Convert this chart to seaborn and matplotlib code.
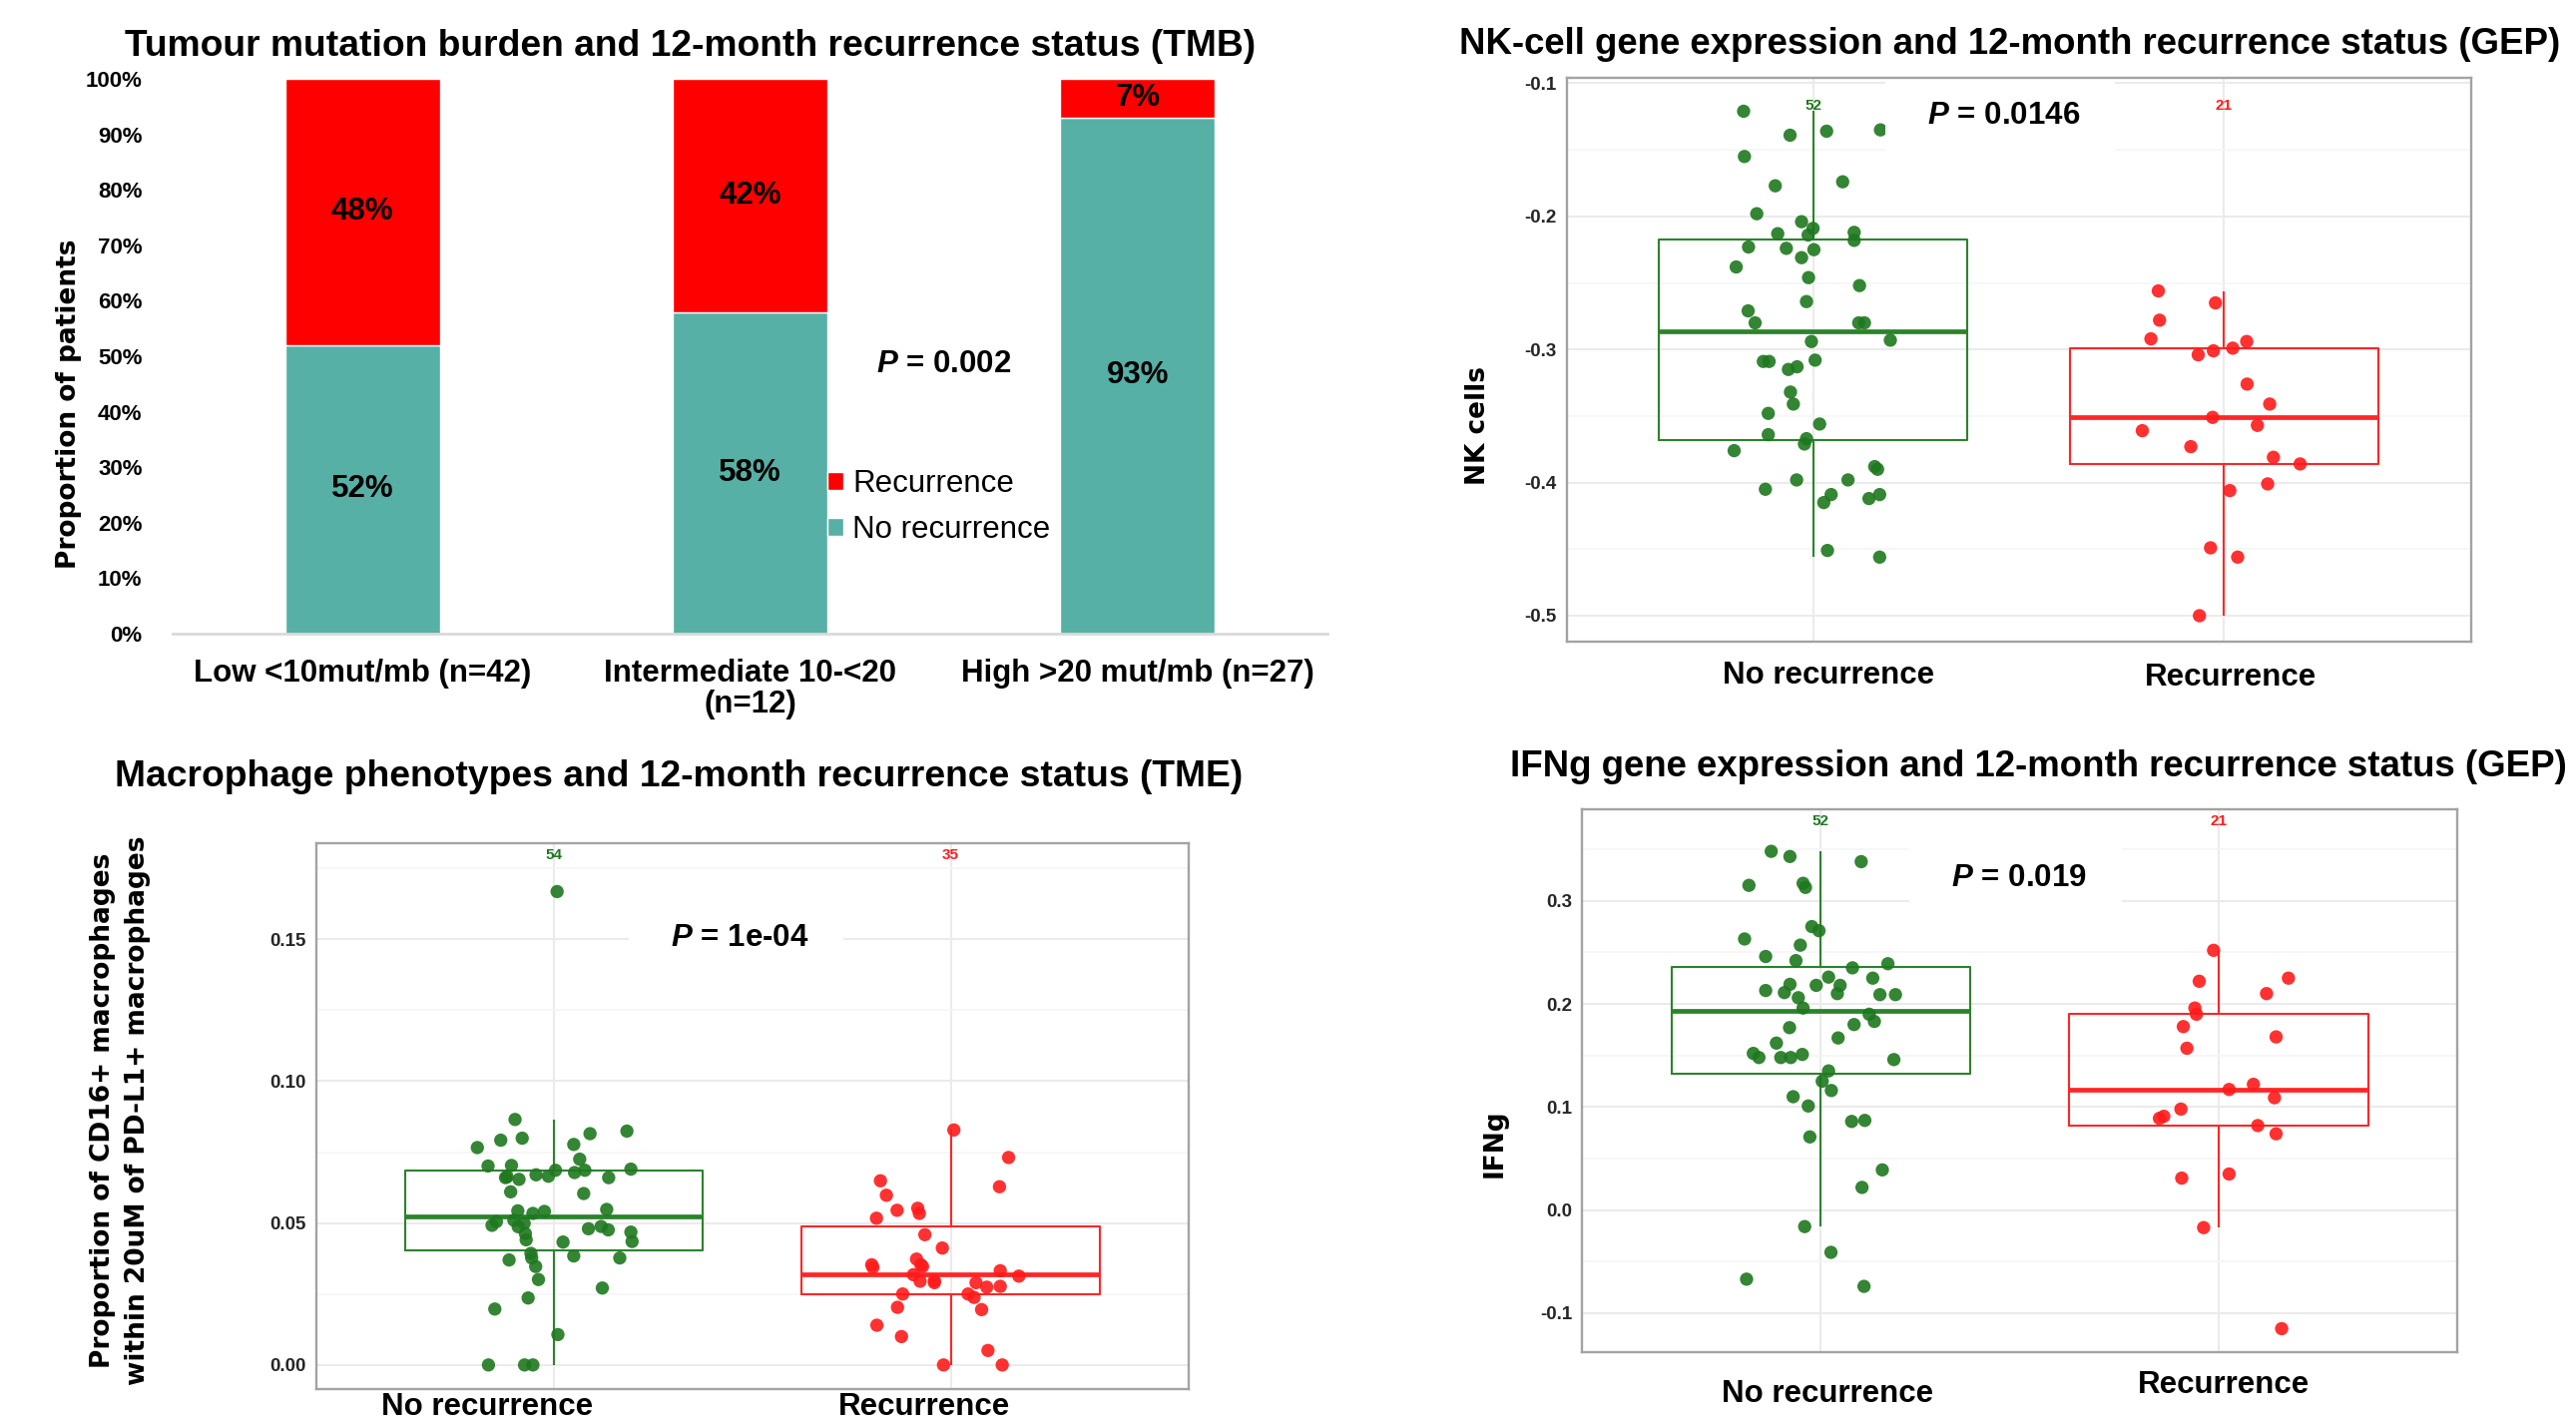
import numpy as np
import pandas as pd
import matplotlib
matplotlib.use("Agg")
import matplotlib.pyplot as plt
import seaborn as sns
from matplotlib.patches import Patch

# ---------------- data ----------------
tmb_groups = ["Low <10mut/mb (n=42)", "Intermediate 10-<20\n(n=12)", "High >20 mut/mb (n=27)"]
tmb_no_rec = [52, 58, 93]
tmb_rec = [48, 42, 7]
tmb_yticks = [0, 10, 20, 30, 40, 50, 60, 70, 80, 90, 100]

status = ["No recurrence", "Recurrence"]

nk_norec = [-0.121, -0.139, -0.136, -0.135, -0.155, -0.177, -0.174, -0.198, -0.204, -0.213,
            -0.214, -0.209, -0.212, -0.218, -0.223, -0.224, -0.225, -0.231, -0.238, -0.246,
            -0.252, -0.264, -0.271, -0.280, -0.280, -0.280, -0.293, -0.294, -0.309, -0.309,
            -0.308, -0.315, -0.313, -0.332, -0.341, -0.348, -0.356, -0.364, -0.367, -0.371,
            -0.376, -0.388, -0.390, -0.398, -0.398, -0.405, -0.409, -0.409, -0.415, -0.412,
            -0.451, -0.456]
nk_norec_jit = [-0.169, -0.056, 0.033, 0.164, -0.167, -0.092, 0.072, -0.137, -0.028, -0.086,
                -0.012, 0.000, 0.100, 0.100, -0.157, -0.065, 0.002, -0.028, -0.187, -0.011,
                0.113, -0.016, -0.158, -0.141, 0.111, 0.125, 0.188, -0.004, -0.121, -0.107,
                0.005, -0.060, -0.039, -0.055, -0.048, -0.109, 0.016, -0.109, -0.016, -0.021,
                -0.192, 0.150, 0.157, -0.040, 0.085, -0.116, 0.044, 0.162, 0.026, 0.136,
                0.035, 0.162]
nk_rec = [-0.256, -0.265, -0.278, -0.292, -0.294, -0.304, -0.301, -0.299, -0.326, -0.341,
          -0.351, -0.357, -0.361, -0.373, -0.381, -0.386, -0.401, -0.406, -0.449, -0.456, -0.500]
nk_rec_jit = [-0.160, -0.021, -0.157, -0.178, 0.055, -0.063, -0.026, 0.021, 0.056, 0.111,
              -0.028, 0.081, -0.199, -0.081, 0.120, 0.185, 0.106, 0.014, -0.033, 0.033, -0.060]

ifn_norec = [0.348, 0.343, 0.338, 0.315, 0.317, 0.313, 0.275, 0.271, 0.263, 0.257,
             0.246, 0.242, 0.239, 0.235, 0.226, 0.225, 0.219, 0.218, 0.218, 0.213,
             0.211, 0.210, 0.209, 0.209, 0.206, 0.196, 0.190, 0.183, 0.180, 0.177,
             0.167, 0.162, 0.152, 0.148, 0.148, 0.148, 0.151, 0.146, 0.135, 0.125,
             0.116, 0.110, 0.101, 0.086, 0.087, 0.071, 0.039, 0.022, -0.016, -0.041,
             -0.067, -0.074]
ifn_norec_jit = [-0.124, -0.077, 0.102, -0.180, -0.044, -0.038, -0.022, -0.004, -0.191, -0.051,
                 -0.138, -0.062, 0.169, 0.080, 0.020, 0.131, -0.077, -0.011, 0.049, -0.138,
                 -0.091, 0.042, 0.149, 0.188, -0.056, -0.044, 0.122, 0.135, 0.084, -0.078,
                 0.044, -0.111, -0.169, -0.155, -0.100, -0.075, -0.046, 0.184, 0.020, 0.004,
                 0.027, -0.069, -0.031, 0.078, 0.111, -0.027, 0.155, 0.104, -0.040, 0.026,
                 -0.186, 0.109]
ifn_rec = [0.252, 0.222, 0.225, 0.210, 0.196, 0.190, 0.178, 0.168, 0.157, 0.122,
           0.117, 0.109, 0.098, 0.091, 0.089, 0.082, 0.074, 0.031, 0.035, -0.017, -0.115]
ifn_rec_jit = [-0.013, -0.049, 0.175, 0.120, -0.060, -0.056, -0.089, 0.144, -0.080, 0.087,
               0.026, 0.140, -0.095, -0.138, -0.149, 0.098, 0.144, -0.093, 0.026, -0.038, 0.158]

mac_norec = [0.1668, 0.0865, 0.0815, 0.0824, 0.0792, 0.0799, 0.0766, 0.0777, 0.0725, 0.0701,
             0.0703, 0.0686, 0.0670, 0.0665, 0.0678, 0.0686, 0.0690, 0.0660, 0.0654, 0.0660,
             0.0610, 0.0604, 0.0543, 0.0534, 0.0541, 0.0548, 0.0505, 0.0492, 0.0510, 0.0487,
             0.0499, 0.0480, 0.0488, 0.0476, 0.0468, 0.0463, 0.0441, 0.0435, 0.0433, 0.0393,
             0.0384, 0.0370, 0.0377, 0.0377, 0.0347, 0.0301, 0.0271, 0.0236, 0.0197, 0.0107,
             0.0, 0.0, 0.0, 0.0663]
mac_norec_jit = [0.008, -0.098, 0.091, 0.184, -0.134, -0.080, -0.193, 0.050, 0.065, -0.166,
                 -0.107, 0.004, -0.045, -0.014, 0.052, 0.078, 0.194, -0.122, -0.088, 0.138,
                 -0.109, 0.075, -0.091, -0.053, -0.024, 0.133, -0.145, -0.156, -0.101, -0.090,
                 -0.075, 0.087, 0.119, 0.137, 0.194, -0.072, -0.070, 0.197, 0.023, -0.058,
                 0.050, -0.113, 0.166, -0.056, -0.046, -0.039, 0.122, -0.065, -0.149, 0.010,
                 -0.165, -0.074, -0.053, -0.118]
mac_rec = [0.0828, 0.0731, 0.0649, 0.0628, 0.0598, 0.0545, 0.0552, 0.0534, 0.0517, 0.0459,
           0.0412, 0.0373, 0.0353, 0.0344, 0.0347, 0.0332, 0.0318, 0.0353, 0.0313, 0.0297,
           0.0290, 0.0295, 0.0290, 0.0274, 0.0277, 0.0250, 0.0250, 0.0238, 0.0203, 0.0195,
           0.0140, 0.0100, 0.0051, 0.0, 0.0]
mac_rec_jit = [0.008, 0.146, -0.177, 0.123, -0.162, -0.135, -0.083, -0.079, -0.187, -0.065,
               -0.021, -0.086, -0.199, -0.196, -0.071, 0.125, -0.094, -0.075, 0.172, -0.041,
               -0.041, -0.077, 0.064, 0.091, 0.125, -0.121, 0.044, 0.059, -0.134, 0.078,
               -0.186, -0.124, 0.094, -0.018, 0.130]

# ---------------- style ----------------
sns.set_style("white")
plt.rcParams["font.family"] = ["Liberation Sans", "DejaVu Sans"]
plt.rcParams["text.color"] = "black"
plt.rcParams["xtick.color"] = "black"
plt.rcParams["ytick.color"] = "black"
plt.rcParams["mathtext.fontset"] = "custom"
plt.rcParams["mathtext.it"] = "Liberation Sans:italic:bold"
plt.rcParams["mathtext.rm"] = "Liberation Sans:bold"
plt.rcParams["mathtext.bf"] = "Liberation Sans:bold"

RED = "#FF0000"
TEAL = "#56B0A5"
GREEN_PT = "#1E781E"
RED_PT = "#FF1A1A"
box_pal = {status[0]: "#2A842A", status[1]: "#FF2626"}
pt_pal = {status[0]: GREEN_PT, status[1]: RED_PT}
lab_col = {status[0]: "#1E781E", status[1]: "#FF1A1A"}

W, H = 2581, 1426
fig = plt.figure(figsize=(W / 100, H / 100), dpi=100)


def px_axes(left, top, right, bottom):
    return fig.add_axes([left / W, 1 - bottom / H, (right - left) / W, (bottom - top) / H])


def fig_text(x, y, s, **kw):
    fig.text(x / W, 1 - y / H, s, **kw)


# ---------------- panel 1: stacked bars ----------------
ax1 = px_axes(173, 79, 1330, 635)
sns.barplot(x=tmb_groups, y=tmb_no_rec, color=TEAL, width=0.4, saturation=1, ax=ax1)
sns.barplot(x=tmb_groups, y=tmb_rec, bottom=tmb_no_rec, color=RED, width=0.4, saturation=1, ax=ax1)
ax1.bar_label(ax1.containers[0], labels=[f"{v}%" for v in tmb_no_rec], label_type="center",
              fontsize=22.5, fontweight="bold")
ax1.bar_label(ax1.containers[1], labels=[f"{v}%" for v in tmb_rec], label_type="center",
              fontsize=22.5, fontweight="bold")
ax1.set_xlim(-0.49, 2.49)
ax1.set_ylim(0, 100)
ax1.set_yticks(tmb_yticks)
ax1.set_yticklabels([f"{v}%" for v in tmb_yticks], fontsize=16, fontweight="bold")
ax1.set_xticks(range(3))
ax1.set_xticklabels(tmb_groups, fontsize=22.5, fontweight="bold", linespacing=1.05)
ax1.tick_params(axis="both", length=0)
ax1.tick_params(axis="y", pad=22)
ax1.tick_params(axis="x", pad=18)
for sp in ["top", "right", "left"]:
    ax1.spines[sp].set_visible(False)
ax1.spines["bottom"].set_color("#D9D9D9")
ax1.spines["bottom"].set_linewidth(2)
ax1.set_xlabel("")
ax1.set_ylabel("")
ax1.text(1.5, 48.5, r"$\mathit{P}$ = 0.002", ha="center", va="center", fontsize=22.5, fontweight="bold")
handles = [Patch(facecolor=RED, label="Recurrence"), Patch(facecolor=TEAL, label="No recurrence")]
ax1.legend(handles=handles, loc="upper left", bbox_to_anchor=(1.2, 29.6), bbox_transform=ax1.transData,
           frameon=False, fontsize=22.5, handlelength=0.5, handleheight=0.5, handletextpad=0.3,
           labelspacing=0.5, borderaxespad=0, borderpad=0)
fig_text(692, 47, "Tumour mutation burden and 12-month recurrence status (TMB)",
         ha="center", va="center", fontsize=26.8, fontweight="bold")
fig_text(69, 405, "Proportion of patients", rotation=90, ha="center", va="center",
         fontsize=19, fontweight="bold", family="DejaVu Sans")


# ---------------- ggplot-like panels ----------------
def gg_panel(ax, v0, j0, v1, j1, ylim, yticks, ytl, yminor, n_y, p_label, p_xy, xlab_off):
    df = pd.DataFrame({"status": [status[0]] * len(v0) + [status[1]] * len(v1),
                       "value": list(v0) + list(v1)})
    sns.boxplot(data=df, x="status", y="value", hue="status", order=status, hue_order=status,
                palette=box_pal, fill=False, showfliers=False, width=0.75, linewidth=1.5,
                saturation=1, legend=False, showcaps=False, medianprops={"linewidth": 3.4}, ax=ax)
    pts = pd.DataFrame({"x": list(j0) + [1 + j for j in j1], "value": df["value"], "status": df["status"]})
    sns.scatterplot(data=pts, x="x", y="value", hue="status", palette=pt_pal, s=92, edgecolor="none",
                    alpha=0.9, legend=False, ax=ax, zorder=3)
    for i, vals in enumerate([v0, v1]):
        ax.text(i, n_y, str(len(vals)), ha="center", va="center", fontsize=11, fontweight="bold",
                color=lab_col[status[i]], zorder=4)
    ax.text(p_xy[0], p_xy[1], "  " + p_label + "  ", ha="center", va="center", fontsize=22.5,
            fontweight="bold", zorder=5,
            bbox=dict(boxstyle="square,pad=0.8", facecolor="white", edgecolor="none"))
    ax.set_xlim(-0.6, 1.6)
    ax.set_ylim(*ylim)
    ax.set_yticks(yticks)
    ax.set_yticklabels(ytl, fontsize=13.5, fontweight="bold", color="#262626")
    ax.set_yticks(yminor, minor=True)
    ax.set_xticks([0, 1])
    ax.set_xticklabels(["", ""])
    # category labels, placed like the reference (slightly offset from the ticks)
    for i, (lab, (dx, dy)) in enumerate(zip(status, xlab_off)):
        ax.annotate(lab, xy=(i, 0), xycoords=ax.get_xaxis_transform(), xytext=(dx, -dy),
                    textcoords="offset pixels", ha="center", va="center", fontsize=22.5,
                    fontweight="bold", annotation_clip=False)
    ax.grid(which="major", axis="both", color="#EBEBEB", linewidth=1.5)
    ax.grid(which="minor", axis="y", color="#F5F5F5", linewidth=1.1)
    ax.set_axisbelow(True)
    ax.tick_params(which="major", length=5, width=1.3, color="#9A9A9A")
    ax.tick_params(which="minor", length=0)
    ax.tick_params(axis="y", pad=2)
    for sp in ax.spines.values():
        sp.set_visible(True)
        sp.set_color("#A3A3A3")
        sp.set_linewidth(1.7)
        sp.set_zorder(10)
    ax.set_xlabel("")
    ax.set_ylabel("")


# NK cells
ax2 = px_axes(1569.5, 78, 2475.5, 643)
gg_panel(ax2, nk_norec, nk_norec_jit, nk_rec, nk_rec_jit, (-0.5195, -0.0959),
         [-0.5, -0.4, -0.3, -0.2, -0.1], ["-0.5", "-0.4", "-0.3", "-0.2", "-0.1"],
         [-0.45, -0.35, -0.25, -0.15], -0.117, r"$\mathit{P}$ = 0.0146", (0.456, -0.1244),
         [(15, 34), (7, 36)])
fig_text(1462, 44, "NK-cell gene expression and 12-month recurrence status (GEP)",
         ha="left", va="center", fontsize=26.4, fontweight="bold")
fig_text(1481, 426, "NK cells", rotation=90, ha="center", va="center",
         fontsize=19, fontweight="bold", family="DejaVu Sans")

# Macrophages
ax3 = px_axes(316.5, 845.4, 1191, 1392)
gg_panel(ax3, mac_norec, mac_norec_jit, mac_rec, mac_rec_jit, (-0.0085, 0.1837),
         [0.0, 0.05, 0.10, 0.15], ["0.00", "0.05", "0.10", "0.15"],
         [0.025, 0.075, 0.125, 0.175], 0.1795, r"$\mathit{P}$ = 1e-04", (0.459, 0.1503),
         [(-67, 18), (-26, 18)])
fig_text(115, 778, "Macrophage phenotypes and 12-month recurrence status (TME)",
         ha="left", va="center", fontsize=26.8, fontweight="bold")
fig_text(121, 1113, "Proportion of CD16+ macrophages\nwithin 20uM of PD-L1+ macrophages", rotation=90,
         ha="center", va="center", fontsize=19, fontweight="bold", family="DejaVu Sans", linespacing=1.45)

# IFNg
ax4 = px_axes(1584.8, 811.2, 2462.4, 1355)
gg_panel(ax4, ifn_norec, ifn_norec_jit, ifn_rec, ifn_rec_jit, (-0.1378, 0.3886),
         [-0.1, 0.0, 0.1, 0.2, 0.3], ["-0.1", "0.0", "0.1", "0.2", "0.3"],
         [-0.05, 0.05, 0.15, 0.25, 0.35], 0.377, r"$\mathit{P}$ = 0.019", (0.49, 0.322),
         [(7, 42), (5, 33)])
fig_text(1513, 768, "IFNg gene expression and 12-month recurrence status (GEP)",
         ha="left", va="center", fontsize=26.4, fontweight="bold")
fig_text(1498, 1146, "IFNg", rotation=90, ha="center", va="center",
         fontsize=19, fontweight="bold", family="DejaVu Sans")

fig.savefig("out.png", dpi=100)
